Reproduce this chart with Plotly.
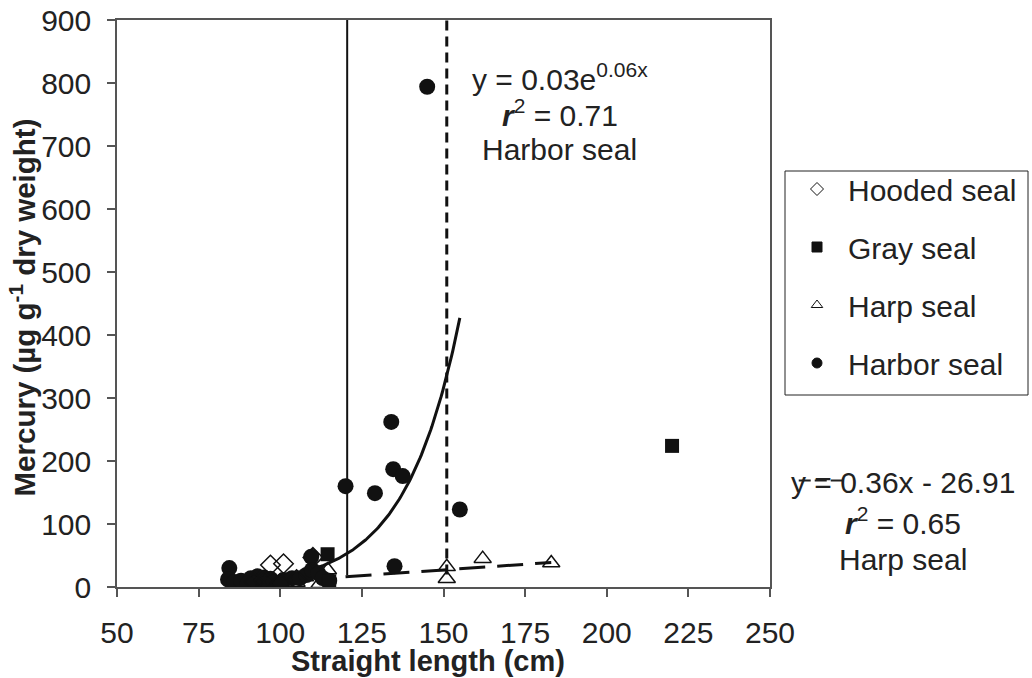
import numpy as np
import plotly.graph_objects as go

# ---- data ----
hooded_x = [97, 101, 110, 95, 100, 105, 92]
hooded_y = [35, 37, 47, 10, 6, 12, 8]

gray_x = [114.5, 115, 220]
gray_y = [52, 9, 224]

harp_x = [105, 107.6, 114.6, 151, 151, 162, 183, 112]
harp_y = [7, 16, 27, 32, 13, 45, 38, 5]

harbor_x = [145, 134, 120, 134.6, 137.5, 129, 155, 135, 84.4, 84, 86, 88, 91, 93,
            95, 97, 92, 95, 98, 101, 103.6, 106, 108, 109.5, 109.7, 111.6, 113, 115, 90, 100]
harbor_y = [794, 262, 160, 187, 176, 149, 123, 33, 30, 12, 8, 10, 14, 17,
            15, 13, 5, 4, 8, 11, 14, 14, 19, 48, 27, 22, 14, 10, 5, 3]

# fitted trendlines
exp_a, exp_b = 0.0367, 0.0604          # harbor seal exponential fit
exp_range = [84, 155]
lin_m, lin_c = 0.36, -26.91            # harp seal linear fit
lin_range = [120, 183]

solid_vline_x = [120.5, 120.5]
solid_vline_y = [19, 906]
dash_vline_x = [151, 151]
dash_vline_y = [20, 900]

FONT = "Liberation Sans, Arial, sans-serif"
TXT = "#222"

fig = go.Figure()

# reference lines
fig.add_trace(go.Scatter(x=solid_vline_x, y=solid_vline_y, mode="lines",
                         line=dict(color="#111", width=2), showlegend=False, hoverinfo="skip"))
fig.add_trace(go.Scatter(x=dash_vline_x, y=dash_vline_y, mode="lines",
                         line=dict(color="#111", width=3, dash="10px,6px"),
                         showlegend=False, hoverinfo="skip"))

# trendlines
ex = np.linspace(exp_range[0], exp_range[1], 200)
fig.add_trace(go.Scatter(x=ex, y=exp_a * np.exp(exp_b * ex), mode="lines",
                         line=dict(color="#111", width=3), showlegend=False, hoverinfo="skip"))
lx = np.array(lin_range, dtype=float)
fig.add_trace(go.Scatter(x=lx, y=lin_m * lx + lin_c, mode="lines",
                         line=dict(color="#111", width=3, dash="26px,12px"),
                         showlegend=False, hoverinfo="skip"))

# data points
fig.add_trace(go.Scatter(x=harp_x, y=harp_y, mode="markers", showlegend=False,
                         marker=dict(symbol="triangle-up-open", size=15, color="#111",
                                     line=dict(width=1.5, color="#111"))))
fig.add_trace(go.Scatter(x=harbor_x, y=harbor_y, mode="markers", showlegend=False,
                         marker=dict(symbol="circle", size=16, color="#111")))
fig.add_trace(go.Scatter(x=hooded_x, y=hooded_y, mode="markers", showlegend=False,
                         marker=dict(symbol="diamond-open", size=15, color="#111",
                                     line=dict(width=1.5, color="#111"))))
fig.add_trace(go.Scatter(x=gray_x, y=gray_y, mode="markers", showlegend=False,
                         marker=dict(symbol="square", size=14, color="#111")))

# legend entries
legend_items = [("Hooded seal", "diamond-open"), ("Gray seal", "square"),
                ("Harp seal", "triangle-up-open"), ("Harbor seal", "circle")]
for i, (name, sym) in enumerate(legend_items):
    fig.add_trace(go.Scatter(x=[None], y=[None], mode="markers", name=name,
                             legendgroup=f"g{i}",
                             marker=dict(symbol=sym, size=10, color="#111",
                                         line=dict(width=1, color="#111"))))

ann_font = dict(family=FONT, size=30, color=TXT)
annotations = [
    dict(text="y = 0.03e<sup>0.06x</sup>", x=0.678, y=0.899),
    dict(text="<b><i>r</i></b><sup>2</sup> = 0.71", x=0.678, y=0.836),
    dict(text="Harbor seal", x=0.678, y=0.771),
    dict(text="y = 0.36x - 26.91", x=1.204, y=0.185),
    dict(text="<b><i>r</i></b><sup>2</sup> = 0.65", x=1.204, y=0.116),
    dict(text="Harp seal", x=1.204, y=0.048),
]
for a in annotations:
    fig.add_annotation(xref="paper", yref="paper", showarrow=False,
                       xanchor="center", yanchor="middle", font=ann_font, **a)

# axis titles
fig.add_annotation(xref="paper", yref="paper", x=0.4763, y=-0.131,
                   showarrow=False, xanchor="center", yanchor="middle",
                   text="<b>Straight length (cm)</b>",
                   font=dict(family=FONT, size=29, color=TXT))
fig.add_annotation(xref="paper", yref="paper", x=-0.1455, y=0.493,
                   showarrow=False, xanchor="center", yanchor="middle", textangle=-90,
                   text="<b>Mercury (µg g<sup>-1</sup> dry weight)</b>",
                   font=dict(family=FONT, size=29.5, color=TXT))

# short dashed artefact across "y =" of harp equation
fig.add_shape(type="line", xref="paper", yref="paper", x0=1.044, x1=1.114, y0=0.188, y1=0.188,
              line=dict(color=TXT, width=2, dash="12px,4px"))

# legend frame
fig.add_shape(type="rect", xref="paper", yref="paper",
              x0=(785 - 117) / 653, x1=(1028 - 117) / 653,
              y0=(587 - 395) / 567, y1=(587 - 171) / 567,
              line=dict(color="#222", width=1), fillcolor="rgba(0,0,0,0)")

axis_common = dict(showline=True, linecolor="#555", linewidth=1.5, mirror=True,
                   ticks="outside", ticklen=8, tickcolor="#555", tickwidth=1.5,
                   showgrid=False, zeroline=False, automargin=False,
                   tickfont=dict(family=FONT, size=30, color=TXT))

fig.update_layout(
    width=1032, height=678,
    margin=dict(l=117, r=262, t=20, b=91),
    plot_bgcolor="white", paper_bgcolor="white",
    xaxis=dict(range=[50, 250], dtick=25, tick0=50, ticklabelstandoff=10, **axis_common),
    yaxis=dict(range=[0, 900], dtick=100, tick0=0, ticklabelstandoff=10, **axis_common),
    legend=dict(xref="container", yref="container", x=786 / 1032, y=1 - 163 / 678,
                xanchor="left", yanchor="top",
                borderwidth=0, bgcolor="rgba(0,0,0,0)",
                font=dict(family=FONT, size=30, color=TXT),
                tracegroupgap=16, itemwidth=52),
    showlegend=True,
)

fig.write_html("out.html", config={"displayModeBar": False},
               post_script="document.body.style.margin='0';")
